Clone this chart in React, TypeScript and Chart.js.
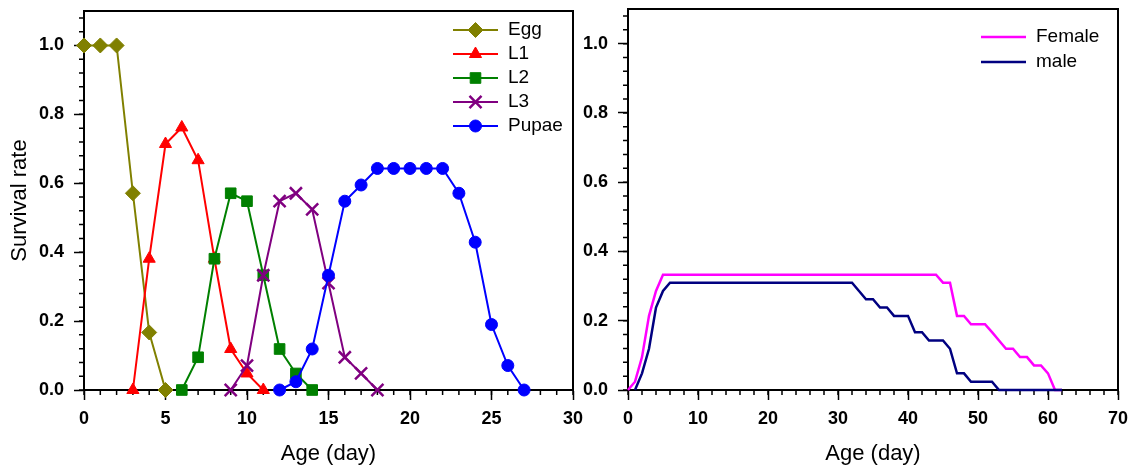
import React, { useEffect, useRef } from "react";
import { Chart, registerables } from "chart.js";
import { drawPoint } from "chart.js/helpers";

Chart.register(...registerables);

const FONT = "'Liberation Sans', Arial, Helvetica, sans-serif";

// ---------- Left panel: immature stages ----------
const eggAge = [0, 1, 2, 3, 4, 5];
const eggSurvival = [1, 1, 1, 0.571, 0.167, 0];

const l1Age = [3, 4, 5, 6, 7, 8, 9, 10, 11];
const l1Survival = [0, 0.381, 0.714, 0.762, 0.667, 0.381, 0.119, 0.048, 0];

const l2Age = [6, 7, 8, 9, 10, 11, 12, 13, 14];
const l2Survival = [0, 0.095, 0.381, 0.571, 0.548, 0.333, 0.119, 0.048, 0];

const l3Age = [9, 10, 11, 12, 13, 14, 15, 16, 17, 18];
const l3Survival = [0, 0.071, 0.333, 0.548, 0.571, 0.524, 0.31, 0.095, 0.048, 0];

const pupaeAge = [12, 13, 14, 15, 16, 17, 18, 19, 20, 21, 22, 23, 24, 25, 26, 27];
const pupaeSurvival = [0, 0.024, 0.119, 0.333, 0.548, 0.595, 0.643, 0.643, 0.643, 0.643, 0.643, 0.571, 0.429, 0.19, 0.071, 0];

// ---------- Right panel: adults (one value per day) ----------
const femaleFirstDay = 0;
const femaleSurvival = [
  0, 0.024, 0.095, 0.214, 0.286, 0.333, 0.333, 0.333, 0.333, 0.333,
  0.333, 0.333, 0.333, 0.333, 0.333, 0.333, 0.333, 0.333, 0.333, 0.333,
  0.333, 0.333, 0.333, 0.333, 0.333, 0.333, 0.333, 0.333, 0.333, 0.333,
  0.333, 0.333, 0.333, 0.333, 0.333, 0.333, 0.333, 0.333, 0.333, 0.333,
  0.333, 0.333, 0.333, 0.333, 0.333, 0.31, 0.31, 0.214, 0.214, 0.19,
  0.19, 0.19, 0.167, 0.143, 0.119, 0.119, 0.095, 0.095, 0.071, 0.071,
  0.048, 0, 0,
];

const maleFirstDay = 1;
const maleSurvival = [
  0, 0.048, 0.119, 0.238, 0.286, 0.31, 0.31, 0.31, 0.31, 0.31,
  0.31, 0.31, 0.31, 0.31, 0.31, 0.31, 0.31, 0.31, 0.31, 0.31,
  0.31, 0.31, 0.31, 0.31, 0.31, 0.31, 0.31, 0.31, 0.31, 0.31,
  0.31, 0.31, 0.286, 0.262, 0.262, 0.238, 0.238, 0.214, 0.214, 0.214,
  0.167, 0.167, 0.143, 0.143, 0.143, 0.119, 0.048, 0.048, 0.024, 0.024,
  0.024, 0.024, 0, 0, 0, 0, 0, 0, 0, 0,
  0, 0,
];

// ---------- Axis ticks ----------
const yTickValues = [0, 0.2, 0.4, 0.6, 0.8, 1.0];
const leftXTickValues = [0, 5, 10, 15, 20, 25, 30];
const rightXTickValues = [0, 10, 20, 30, 40, 50, 60, 70];
const yMax = 1.1;
const leftXMax = 30;
const rightXMax = 70;
const yMinorStep = 0.04;
const leftXMinorStep = 1;
const rightXMinorStep = 2;

const TICK_FONT_SIZE = 18;
const TITLE_FONT_SIZE = 22;
const LEGEND_FONT_SIZE = 19;

const toPoints = (xs: number[], ys: number[]) => xs.map((x, i) => ({ x, y: ys[i] }));
const toDailyPoints = (first: number, ys: number[]) => ys.map((y, i) => ({ x: first + i, y }));

function frameAndMinorTicks(xMinor: number, yMinor: number) {
  return {
    id: "frameMinor",
    beforeDatasetsDraw(chart: any) {
      const { ctx, chartArea: a, scales } = chart;
      const xs = scales.x;
      const ys = scales.y;
      ctx.save();
      ctx.strokeStyle = "#000";
      ctx.lineWidth = 1.5;
      ctx.beginPath();
      for (let i = 0; ; i++) {
        const v = xs.min + i * xMinor;
        if (v > xs.max + 1e-9) break;
        const px = xs.getPixelForValue(v);
        ctx.moveTo(px, a.bottom);
        ctx.lineTo(px, a.bottom + 5);
      }
      for (let i = 0; ; i++) {
        const v = ys.min + i * yMinor;
        if (v > ys.max + 1e-9) break;
        const py = ys.getPixelForValue(v);
        ctx.moveTo(a.left - 5, py);
        ctx.lineTo(a.left, py);
      }
      ctx.stroke();
      ctx.lineWidth = 2;
      ctx.strokeRect(a.left, a.top, a.right - a.left, a.bottom - a.top);
      ctx.restore();
    },
  };
}

function insideLegend(offsetFromRight: number, topOffset: number, rowGap: number, lineLen: number, fontSize: number) {
  return {
    id: "insideLegend",
    afterDraw(chart: any) {
      const { ctx, chartArea } = chart;
      const x0 = chartArea.right - offsetFromRight;
      chart.data.datasets.forEach((ds: any, i: number) => {
        const y = chartArea.top + topOffset + i * rowGap;
        ctx.save();
        ctx.strokeStyle = ds.borderColor;
        ctx.lineWidth = ds.borderWidth;
        ctx.beginPath();
        ctx.moveTo(x0, y);
        ctx.lineTo(x0 + lineLen, y);
        ctx.stroke();
        if (ds.pointRadius > 0) {
          ctx.fillStyle = ds.pointBackgroundColor;
          ctx.strokeStyle = ds.pointBorderColor;
          ctx.lineWidth = ds.pointBorderWidth;
          drawPoint(ctx, { pointStyle: ds.pointStyle, radius: ds.pointRadius, borderWidth: ds.pointBorderWidth, rotation: 0 } as any, x0 + lineLen / 2, y);
        }
        ctx.fillStyle = "#000";
        ctx.font = `${fontSize}px ${FONT}`;
        ctx.textAlign = "left";
        ctx.textBaseline = "middle";
        ctx.fillText(ds.label, x0 + lineLen + 10, y);
        ctx.restore();
      });
    },
  };
}

function xScale(max: number, ticks: number[]) {
  return {
    type: "linear",
    min: 0,
    max,
    afterBuildTicks: (s: any) => {
      s.ticks = ticks.map((v) => ({ value: v }));
    },
    afterFit: (s: any) => {
      s.height = 80;
      s.paddingLeft = 0;
      s.paddingRight = 0;
    },
    grid: { display: true, drawOnChartArea: false, drawTicks: true, tickLength: 10, tickWidth: 1.5, tickColor: "#000" },
    border: { display: true, color: "#000", width: 2 },
    ticks: {
      color: "#000",
      font: { family: FONT, size: TICK_FONT_SIZE, weight: "bold" },
      padding: 8,
      maxRotation: 0,
      autoSkip: false,
      callback: (v: any) => String(v),
    },
    title: {
      display: true,
      text: "Age (day)",
      color: "#000",
      font: { family: FONT, size: TITLE_FONT_SIZE },
      padding: { top: 0, bottom: 3 },
    },
  };
}

function yScale(width: number, withTitle: boolean) {
  return {
    type: "linear",
    min: 0,
    max: yMax,
    afterBuildTicks: (s: any) => {
      s.ticks = yTickValues.map((v) => ({ value: v }));
    },
    afterFit: (s: any) => {
      s.width = width;
      s.paddingTop = 0;
      s.paddingBottom = 0;
    },
    grid: { display: true, drawOnChartArea: false, drawTicks: true, tickLength: 10, tickWidth: 1.5, tickColor: "#000" },
    border: { display: true, color: "#000", width: 2 },
    ticks: {
      color: "#000",
      font: { family: FONT, size: TICK_FONT_SIZE, weight: "bold" },
      padding: 10,
      autoSkip: false,
      callback: (v: any) => Number(v).toFixed(1),
    },
    title: {
      display: withTitle,
      text: "Survival rate",
      color: "#000",
      font: { family: FONT, size: TITLE_FONT_SIZE },
      padding: { top: 7, bottom: 0 },
    },
  };
}

function stage(label: string, color: string, pointStyle: string, radius: number, pbw: number, order: number, xs: number[], ys: number[]) {
  return {
    label,
    data: toPoints(xs, ys),
    borderColor: color,
    backgroundColor: color,
    pointBackgroundColor: color,
    pointBorderColor: color,
    borderWidth: 2,
    pointStyle,
    pointRadius: radius,
    pointBorderWidth: pbw,
    tension: 0,
    clip: false,
    order,
  };
}

function leftConfig(): any {
  return {
    type: "line",
    data: {
      datasets: [
        stage("Egg", "#808000", "rectRot", 7.5, 1, 5, eggAge, eggSurvival),
        stage("L1", "#FF0000", "triangle", 7, 1, 4, l1Age, l1Survival),
        stage("L2", "#008000", "rect", 7.5, 1, 3, l2Age, l2Survival),
        stage("L3", "#800080", "crossRot", 8.5, 2.5, 2, l3Age, l3Survival),
        stage("Pupae", "#0000FF", "circle", 6, 1, 1, pupaeAge, pupaeSurvival),
      ],
    },
    options: {
      responsive: false,
      animation: false,
      events: [],
      layout: { padding: { left: 0, right: 17, top: 9, bottom: 0 } },
      plugins: { legend: { display: false }, tooltip: { enabled: false } },
      scales: { x: xScale(leftXMax, leftXTickValues), y: yScale(84, true) },
    },
    plugins: [frameAndMinorTicks(leftXMinorStep, yMinorStep), insideLegend(120, 19, 24, 45, LEGEND_FONT_SIZE)],
  };
}

function rightConfig(): any {
  const line = (label: string, color: string, order: number, first: number, ys: number[]) => ({
    label,
    data: toDailyPoints(first, ys),
    borderColor: color,
    backgroundColor: color,
    borderWidth: 2.5,
    pointRadius: 0,
    tension: 0,
    clip: false,
    order,
  });
  return {
    type: "line",
    data: {
      datasets: [
        line("Female", "#FF00FF", 2, femaleFirstDay, femaleSurvival),
        line("male", "#000080", 1, maleFirstDay, maleSurvival),
      ],
    },
    options: {
      responsive: false,
      animation: false,
      events: [],
      layout: { padding: { left: 0, right: 22, top: 9, bottom: 0 } },
      plugins: { legend: { display: false }, tooltip: { enabled: false } },
      scales: { x: xScale(rightXMax, rightXTickValues), y: yScale(53, false) },
    },
    plugins: [frameAndMinorTicks(rightXMinorStep, yMinorStep), insideLegend(137, 28, 25, 45, LEGEND_FONT_SIZE)],
  };
}

export default function App() {
  const leftRef = useRef<HTMLCanvasElement>(null);
  const rightRef = useRef<HTMLCanvasElement>(null);

  useEffect(() => {
    const c1 = new Chart(leftRef.current as HTMLCanvasElement, leftConfig());
    const c2 = new Chart(rightRef.current as HTMLCanvasElement, rightConfig());
    return () => {
      c1.destroy();
      c2.destroy();
    };
  }, []);

  return (
    <div style={{ position: "absolute", left: 0, top: 0, width: 1140, height: 470, background: "#fff" }}>
      <canvas ref={leftRef} width={590} height={470} style={{ position: "absolute", left: 0, top: 0 }} />
      <canvas ref={rightRef} width={565} height={470} style={{ position: "absolute", left: 575, top: 0 }} />
    </div>
  );
}
